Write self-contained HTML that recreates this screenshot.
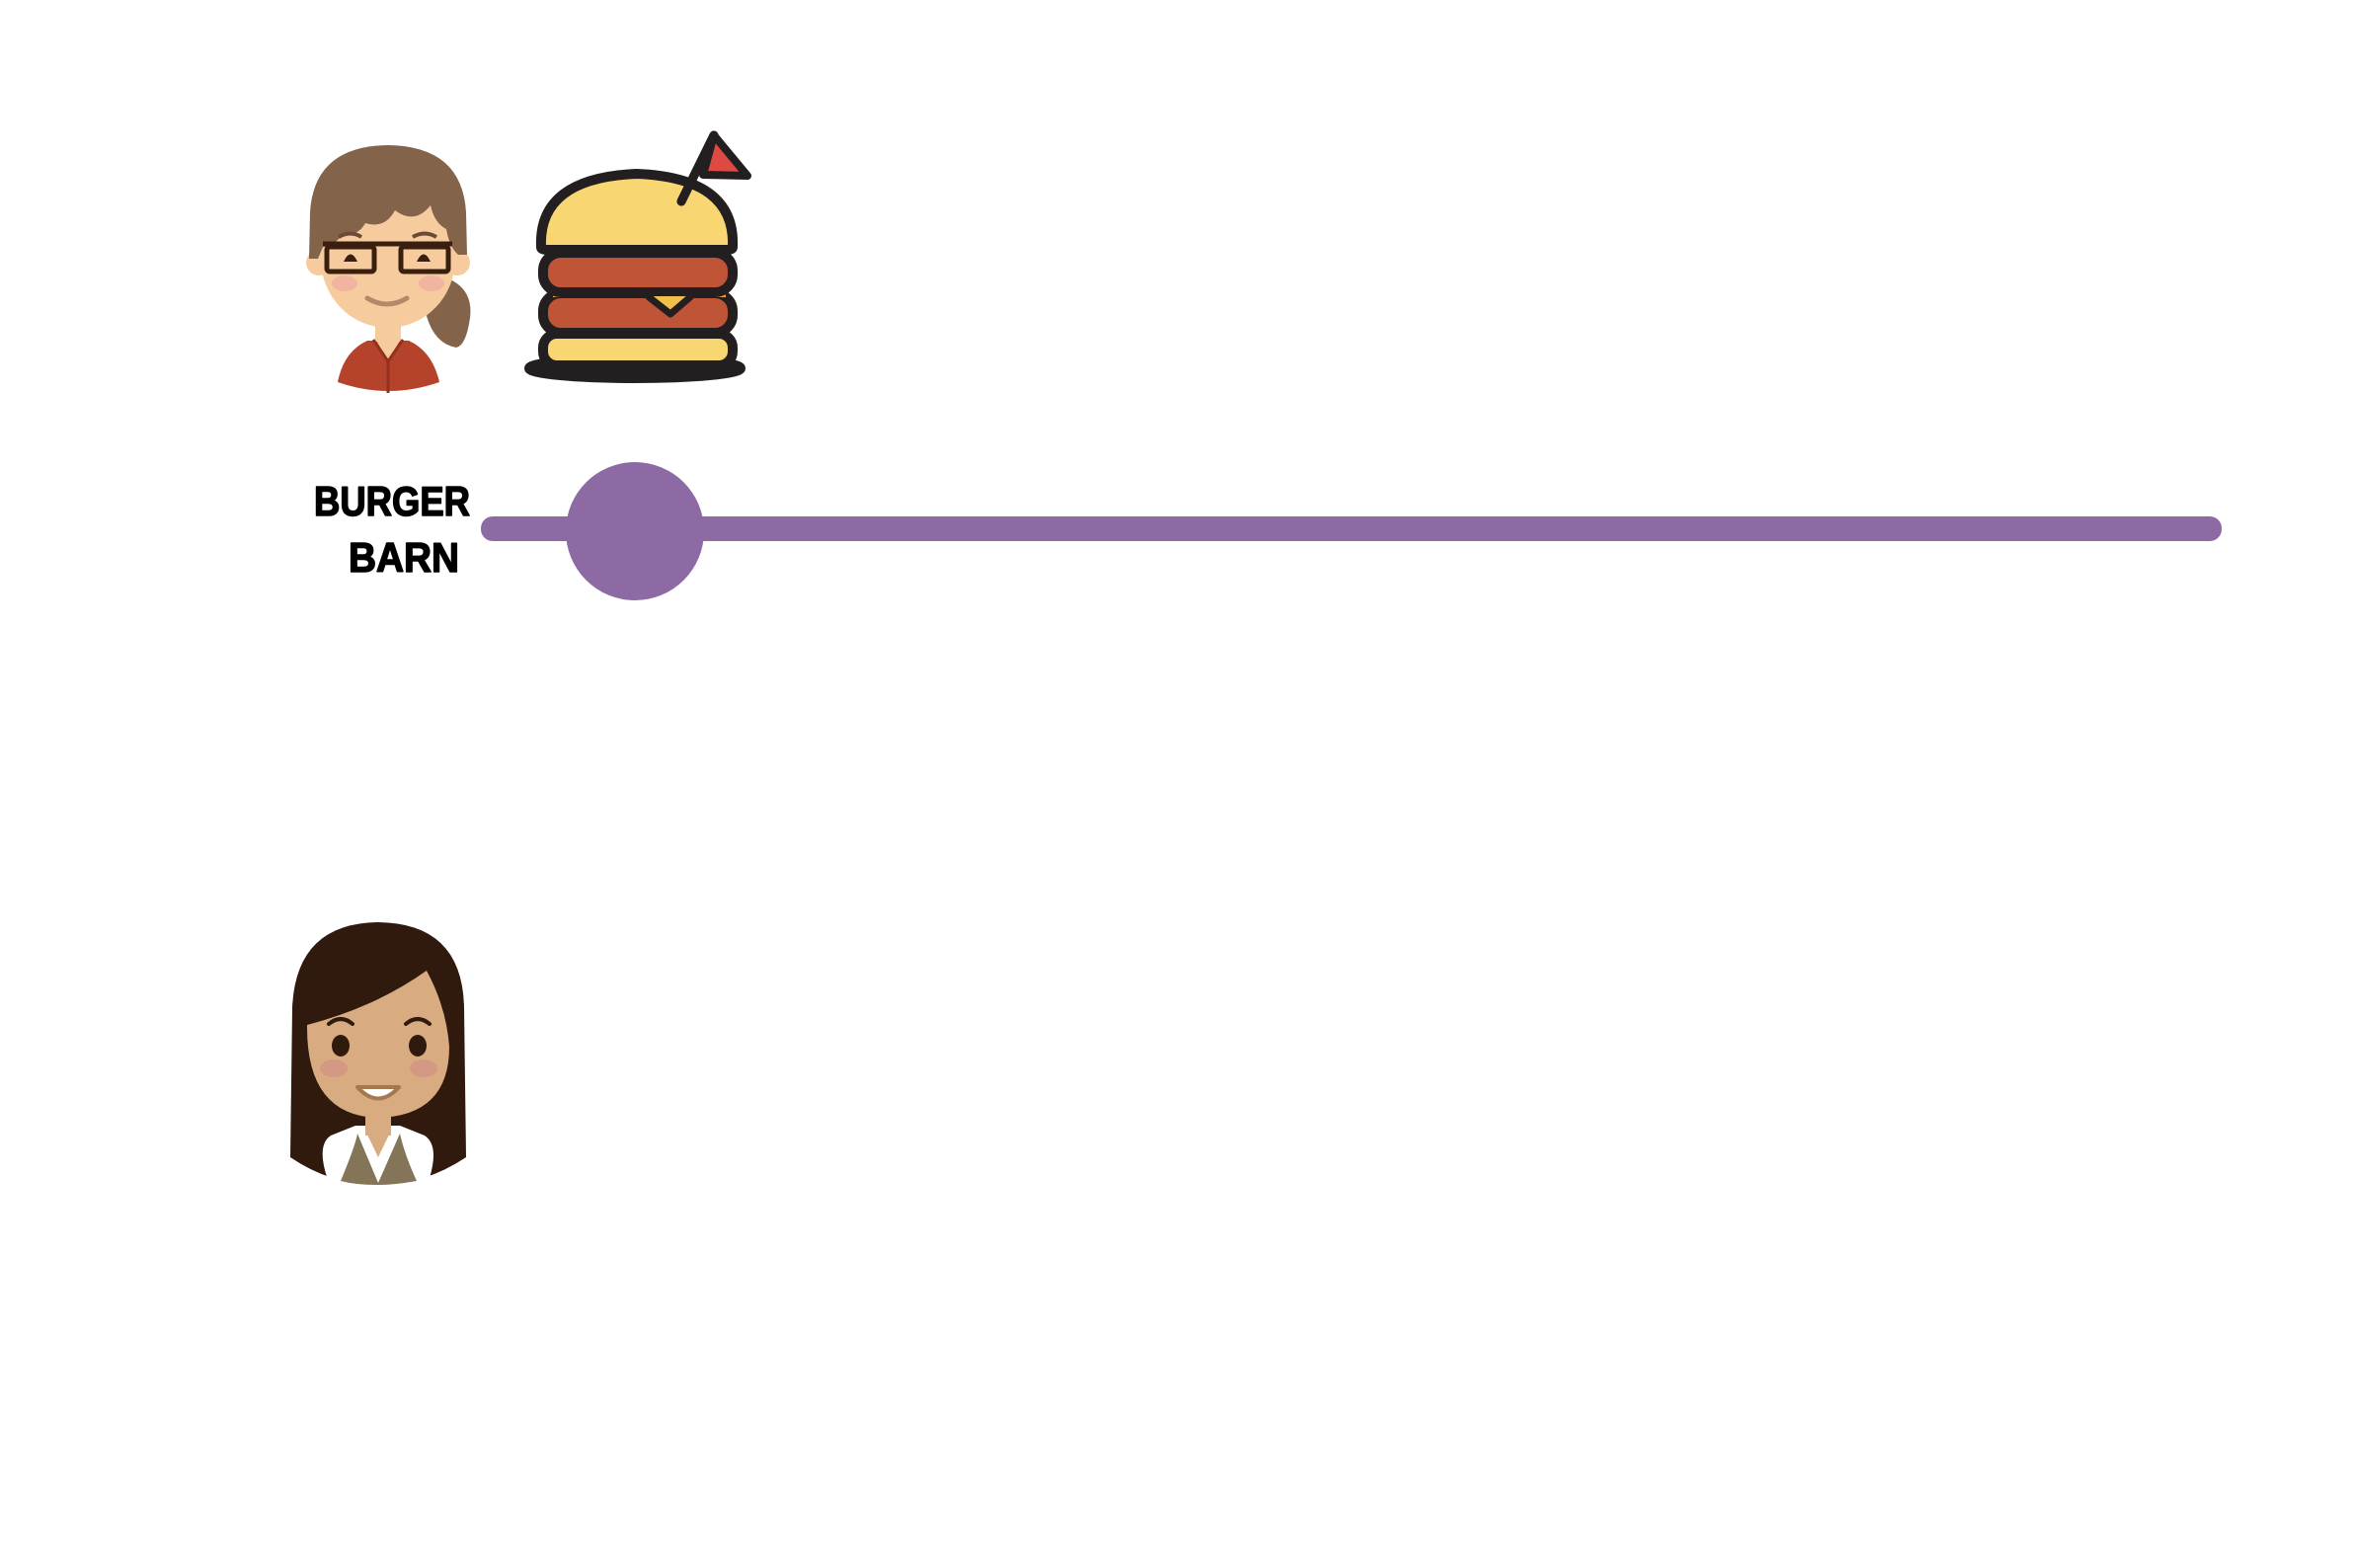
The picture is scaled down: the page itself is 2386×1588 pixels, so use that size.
<!DOCTYPE html>
<html><head><style>html,body{margin:0;padding:0;background:#fff}svg{display:block}</style></head>
<body>
<svg width="2386" height="1588" viewBox="0 0 2386 1588" xmlns="http://www.w3.org/2000/svg">
<!-- woman 1 -->
<g>
  <path d="M342 387 Q348 356 372 345 L414 345 Q438 356 445 387 Q393 405 342 387 Z" fill="#b5432c"/>
  <rect x="380" y="318" width="26" height="28" fill="#f6cc9f"/>
  <path d="M380 343 L393 366 L406 343 Z" fill="#f6cc9f"/>
  <path d="M378 344 L393 366 L408 344" stroke="#962f1e" stroke-width="3" fill="none"/>
  <path d="M393 366 L393 398" stroke="#962f1e" stroke-width="3"/>
  <path d="M448 280 Q480 290 476 322 Q472 350 462 352 Q440 348 432 320 Z" fill="#83644b"/>
  <circle cx="323" cy="266" r="13" fill="#f6cc9f"/>
  <circle cx="463" cy="266" r="13" fill="#f6cc9f"/>
  <ellipse cx="393" cy="262" rx="68" ry="70" fill="#f6cc9f"/>
  <path d="M313 262 L314 215 Q318 148 393 147 Q468 148 472 215 L473 258 L464 258 Q455 250 452 232 Q440 226 436 208 Q420 228 400 213 Q390 232 370 226 Q362 240 348 236 Q338 250 327 250 L322 262 Z" fill="#83644b"/>
  <ellipse cx="349" cy="287" rx="13" ry="8" fill="#f0b4a0"/>
  <ellipse cx="437" cy="287" rx="13" ry="8" fill="#f0b4a0"/>
  <path d="M372 302 Q392 314 412 302" stroke="#b3896a" stroke-width="5" fill="none" stroke-linecap="round"/>
  <path d="M327 247 L458 247" stroke="#3a1f10" stroke-width="5"/>
  <rect x="331" y="250" width="48" height="25" rx="3" fill="none" stroke="#3a1f10" stroke-width="5"/>
  <rect x="406" y="250" width="48" height="25" rx="3" fill="none" stroke="#3a1f10" stroke-width="5"/>
  <path d="M348 265 Q355 250 362 265 Z" fill="#3a1f10"/>
  <path d="M422 265 Q429 250 436 265 Z" fill="#3a1f10"/>
  <path d="M343 240 Q355 233 366 240 M418 240 Q430 233 442 240" stroke="#6b4a36" stroke-width="4" fill="none"/>
</g>
<!-- burger -->
<g stroke="#231f20" stroke-width="10" stroke-linejoin="round">
  <ellipse cx="643" cy="373" rx="107" ry="10" fill="#231f20"/>
  <rect x="550" y="338" width="192" height="32" rx="14" fill="#f8d672"/>
  <rect x="550" y="297" width="192" height="40" rx="18" fill="#bf5536"/>
  <path d="M560 297 L735 297" stroke="#e6a844" stroke-width="8"/>
  <rect x="550" y="256" width="192" height="40" rx="18" fill="#bf5536"/>
  <path d="M548 250 Q545 180 645 176 Q745 180 742 250 Q742 253 735 253 L555 253 Q548 253 548 250 Z" fill="#f8d672"/>
  <path d="M656 300 L679 318 L700 300" fill="#f0c04a" stroke-width="7"/>
  <path d="M690 204 L723 137" fill="none" stroke-linecap="round" stroke-width="9"/>
  <path d="M723 137 L757 178 L712 177 Z" fill="#dc4a43" stroke-width="8"/>
</g>
<path d="M690 204 L723 137" stroke="#231f20" stroke-width="9" stroke-linecap="round"/>
<!-- line -->
<rect x="487" y="523" width="1763" height="25" rx="12" fill="#8d6aa3"/>
<circle cx="643" cy="538" r="70" fill="#8d6aa3"/>
<!-- text -->
<g font-family="'Liberation Sans', sans-serif" font-weight="900" font-size="42" fill="#000" stroke="#000" stroke-width="1.5" stroke-linejoin="round">
  <text x="318" y="522" textLength="158" lengthAdjust="spacingAndGlyphs">BURGER</text>
  <text x="353" y="579" textLength="112" lengthAdjust="spacingAndGlyphs">BARN</text>
</g>
<!-- woman 2 -->
<g>
  <path d="M294 1172 L296 1020 Q300 935 383 934 Q468 935 470 1020 L472 1172 Q430 1200 383 1200 Q335 1200 294 1172 Z" fill="#301a0d"/>
  <path d="M335 1150 Q320 1160 332 1195 Q360 1202 383 1200 Q410 1200 435 1193 Q445 1160 430 1150 L405 1140 L360 1140 Z" fill="#fff"/>
  <path d="M345 1196 Q360 1160 362 1148 L383 1198 L405 1148 Q410 1170 422 1196 Q400 1200 383 1200 Q360 1200 345 1196 Z" fill="#857558"/>
  <rect x="370" y="1120" width="26" height="30" fill="#d8ab80"/>
  <path d="M370 1145 L383 1172 L396 1145 Z" fill="#d8ab80"/>
  <path d="M311 1038 Q310 1130 383 1132 Q455 1130 455 1060 Q452 1020 432 983 Q380 1020 311 1038 Z" fill="#d8ab80"/>
  <ellipse cx="338" cy="1082" rx="14" ry="9" fill="#d39985"/>
  <ellipse cx="429" cy="1082" rx="14" ry="9" fill="#d39985"/>
  <ellipse cx="345" cy="1059" rx="9" ry="11" fill="#301a0d"/>
  <ellipse cx="423" cy="1059" rx="9" ry="11" fill="#301a0d"/>
  <path d="M333 1037 Q345 1027 357 1037 M411 1037 Q423 1027 435 1037" stroke="#301a0d" stroke-width="4" fill="none" stroke-linecap="round"/>
  <path d="M362 1101 Q383 1124 404 1101 Z" fill="#fff" stroke="#a57852" stroke-width="4" stroke-linejoin="round"/>
</g>
</svg>
</body></html>
